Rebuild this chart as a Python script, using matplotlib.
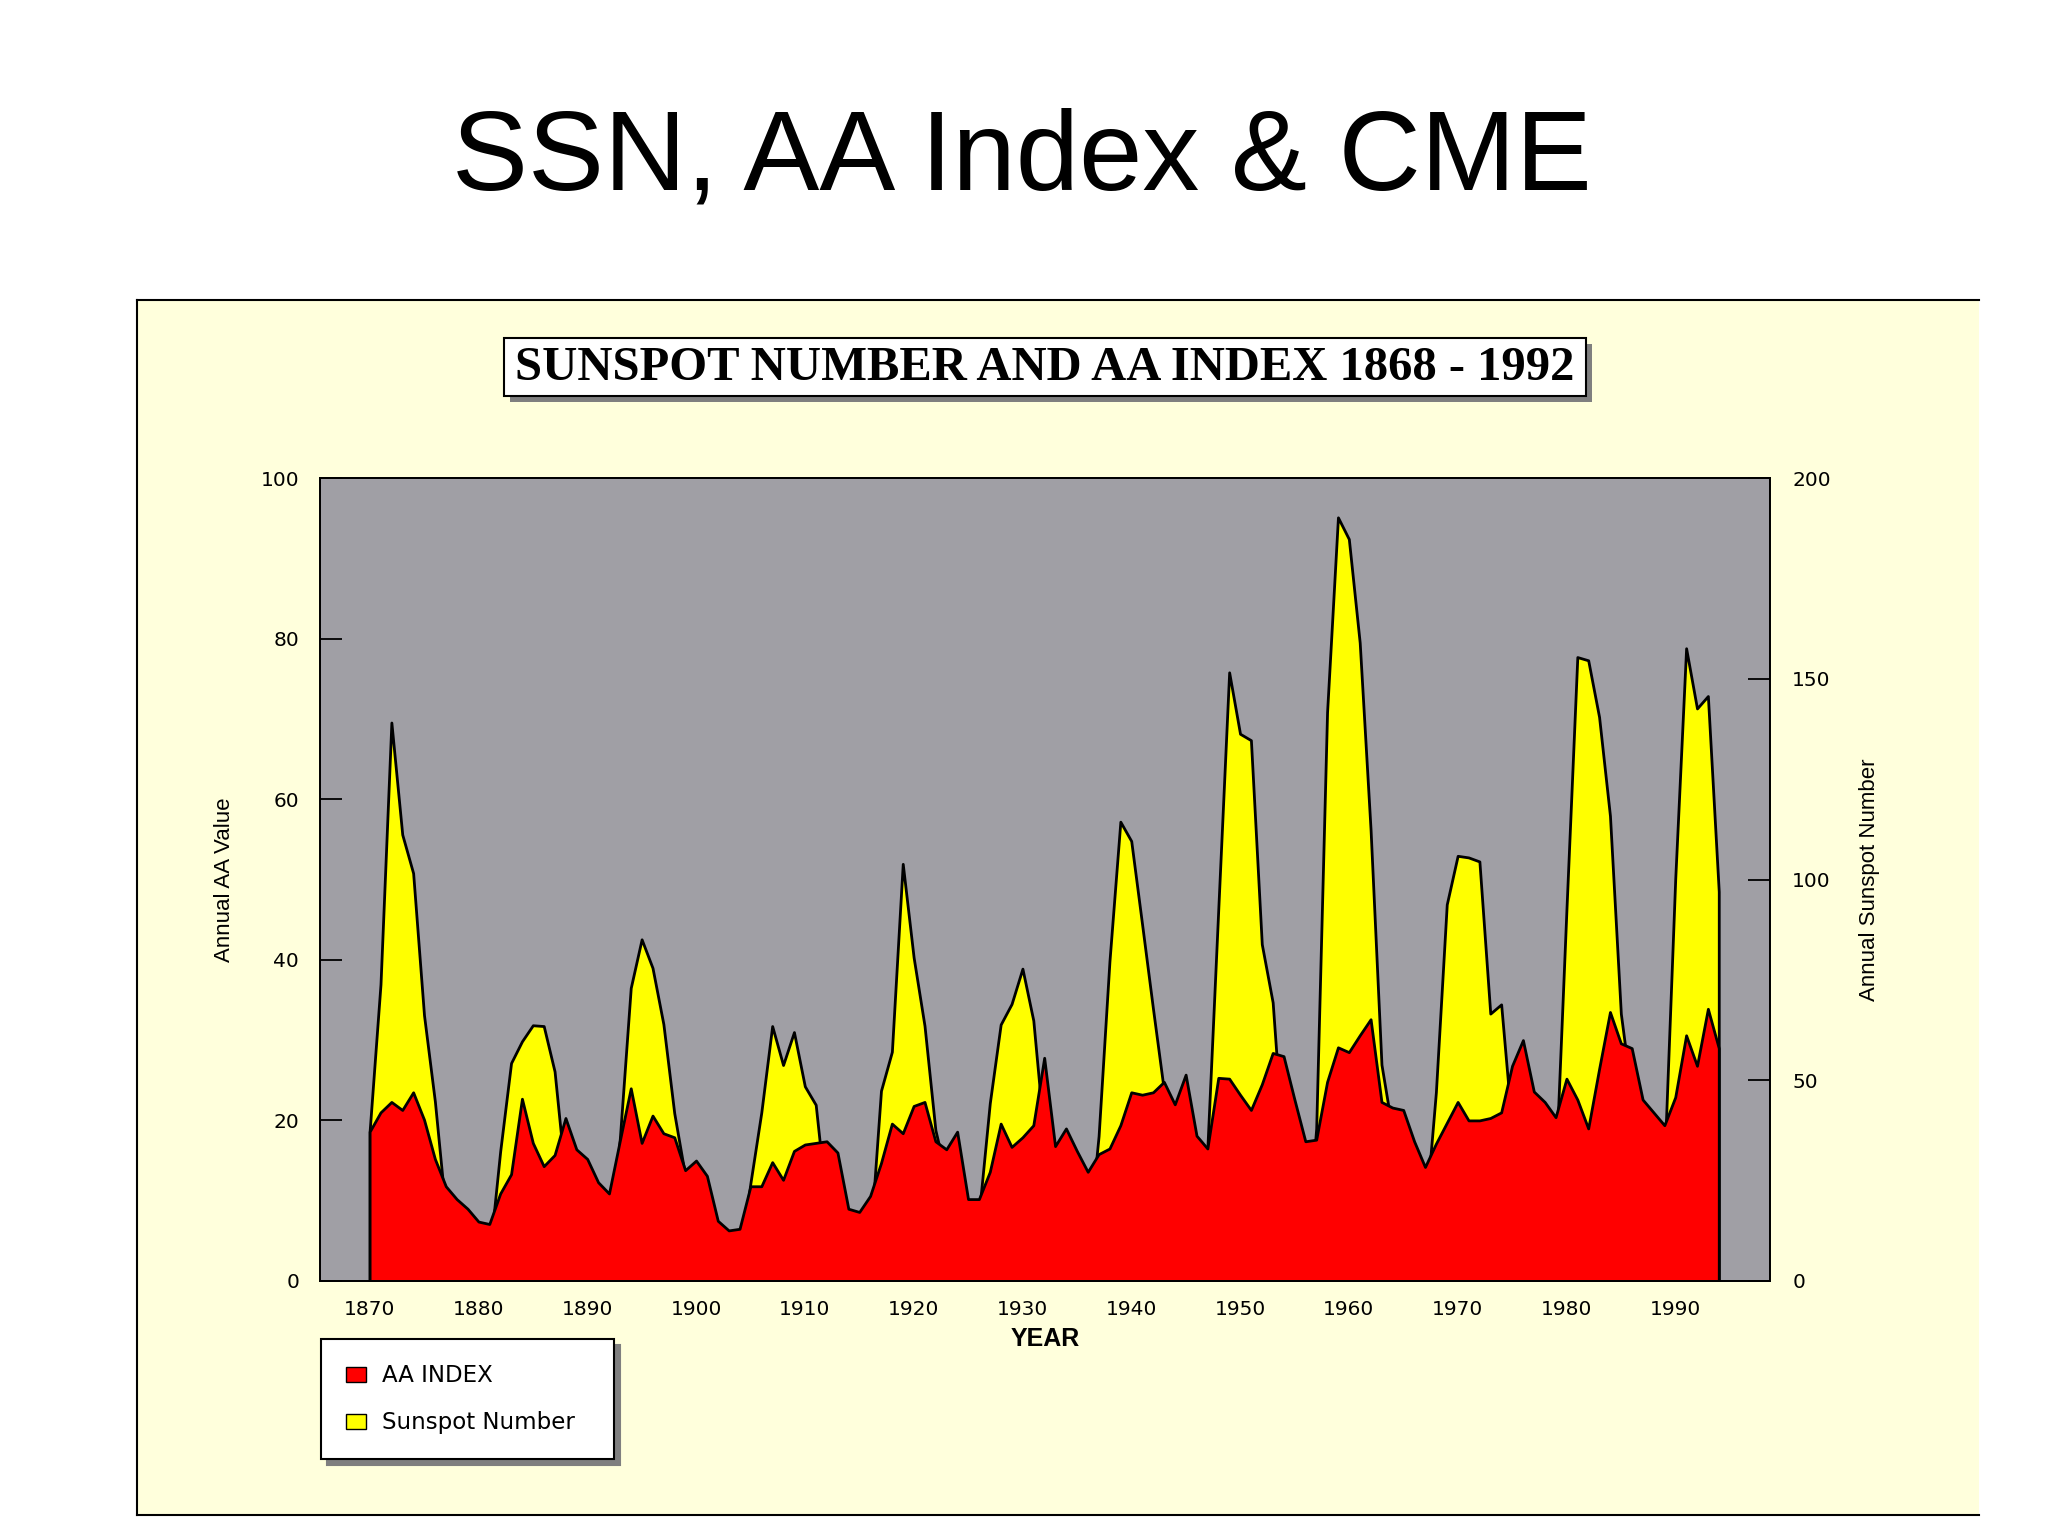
import matplotlib
matplotlib.use("Agg")
import matplotlib.pyplot as plt
from matplotlib.patches import Rectangle, Patch
from matplotlib.lines import Line2D

# ---------------- data ----------------
years = list(range(1870, 1995))

sunspot = [37.3, 73.9, 139.1, 111.2, 101.6, 66.2, 44.7, 17.0, 11.3, 12.4,
           3.4, 6.0, 32.3, 54.3, 59.7, 63.7, 63.5, 52.2, 25.4, 13.1,
           6.8, 6.3, 7.1, 35.6, 73.0, 85.1, 78.0, 64.0, 41.8, 26.2,
           26.7, 12.1, 9.5, 2.7, 5.0, 24.4, 42.0, 63.5, 53.8, 62.0,
           48.5, 43.9, 18.6, 5.7, 3.6, 1.4, 9.6, 47.4, 57.1, 103.9,
           80.6, 63.6, 37.6, 26.1, 14.2, 5.8, 16.7, 44.3, 63.9, 69.0,
           77.8, 64.9, 35.7, 21.2, 11.1, 5.7, 8.7, 36.1, 79.7, 114.4,
           109.6, 88.8, 67.8, 47.5, 30.6, 16.3, 9.6, 33.2, 92.6, 151.6,
           136.3, 134.7, 83.9, 69.4, 31.5, 13.9, 4.4, 38.0, 141.7, 190.2,
           184.8, 159.0, 112.3, 53.9, 37.5, 27.9, 10.2, 15.1, 47.0, 93.8,
           105.9, 105.5, 104.5, 66.6, 68.9, 38.0, 34.5, 15.5, 12.6, 27.5,
           92.5, 155.4, 154.6, 140.5, 115.9, 66.6, 45.9, 17.9, 13.4, 29.4,
           100.2, 157.6, 142.6, 145.7, 97.0]

aa_index = [18.6, 21.0, 22.3, 21.3, 23.5, 20.1, 15.2, 11.8, 10.2, 9.0,
            7.4, 7.1, 10.9, 13.3, 22.7, 17.2, 14.3, 15.7, 20.3, 16.4,
            15.2, 12.3, 10.9, 17.5, 24.0, 17.2, 20.6, 18.4, 17.9, 13.8,
            15.0, 13.1, 7.5, 6.3, 6.5, 11.8, 11.8, 14.8, 12.6, 16.2,
            17.0, 17.2, 17.4, 16.0, 9.0, 8.6, 10.6, 14.7, 19.6, 18.4,
            21.8, 22.3, 17.4, 16.4, 18.6, 10.2, 10.2, 13.6, 19.6, 16.7,
            17.9, 19.4, 27.8, 16.8, 19.0, 16.2, 13.6, 15.8, 16.5, 19.4,
            23.5, 23.2, 23.5, 24.8, 22.0, 25.7, 18.1, 16.5, 25.3, 25.2,
            23.2, 21.3, 24.5, 28.4, 28.0, 22.6, 17.4, 17.6, 24.8, 29.1,
            28.5, 30.6, 32.6, 22.3, 21.6, 21.3, 17.4, 14.2, 17.1, 19.7,
            22.3, 20.0, 20.0, 20.3, 21.0, 26.8, 30.0, 23.6, 22.3, 20.4,
            25.2, 22.6, 19.0, 26.4, 33.5, 29.6, 29.0, 22.6, 21.0, 19.4,
            22.9, 30.6, 26.8, 33.9, 29.0]

x_ticks = list(range(1870, 2000, 10))
aa_ticks = [0, 20, 40, 60, 80, 100]
ssn_ticks = [0, 50, 100, 150, 200]

slide_title = "SSN, AA Index & CME"
chart_title = "SUNSPOT NUMBER AND AA INDEX 1868 - 1992"
legend_labels = ["AA INDEX", "Sunspot Number"]

# ---------------- figure ----------------
W, H = 2048, 1536
fig = plt.figure(figsize=(W / 100, H / 100), dpi=100)
fig.patch.set_facecolor("white")

def fx(px):
    return px / W

def fy(py):
    return 1 - py / H

NARROW = ["Liberation Sans Narrow", "DejaVu Sans Condensed", "Liberation Sans"]
PANEL = "#FFFFDC"
GRAY = "#A09FA5"

# chart panel
fig.add_artist(Rectangle((fx(137), fy(1515)), fx(1979) - fx(137), fy(300) - fy(1515),
                         transform=fig.transFigure, fc=PANEL, ec="none", zorder=0))
for xs, ys in [([137, 137], [300, 1515]), ([137, 1979], [300, 300]), ([137, 1979], [1515, 1515])]:
    fig.add_artist(Line2D([fx(v) for v in xs], [fy(v) for v in ys],
                          transform=fig.transFigure, color="black", lw=1.5, zorder=1))

# slide title
fig.text(fx(1022), fy(189), slide_title, ha="center", va="baseline",
         fontsize=82, family=["Liberation Sans", "DejaVu Sans"], color="black")

# chart title box with shadow
bx0, by0, bx1, by1 = 504, 338, 1586, 396
fig.add_artist(Rectangle((fx(bx0 + 6), fy(by1 + 6)), fx(bx1) - fx(bx0), fy(by0) - fy(by1),
                         transform=fig.transFigure, fc="#7F7F7F", ec="none", zorder=2))
fig.add_artist(Rectangle((fx(bx0), fy(by1)), fx(bx1) - fx(bx0), fy(by0) - fy(by1),
                         transform=fig.transFigure, fc="white", ec="black", lw=1.5, zorder=3))
fig.text(fx((bx0 + bx1) / 2), fy(368), chart_title, ha="center", va="center",
         fontsize=35, fontweight="bold", family=["Liberation Serif", "DejaVu Serif"],
         color="black", zorder=4)

# axes
ax = fig.add_axes([fx(320), fy(1281), fx(1770) - fx(320), fy(478) - fy(1281)])
ax.set_facecolor(GRAY)
ax.fill_between(years, sunspot, 0, facecolor="#FFFF00", edgecolor="black", linewidth=2.0, zorder=2)
ax.set_ylim(0, 200)
ax.set_xlim(1865.44, 1998.71)
ax.set_yticks(ssn_ticks)
ax.set_xticks(x_ticks)
ax.yaxis.tick_right()
ax.yaxis.set_label_position("right")

ax2 = ax.twinx()
ax2.fill_between(years, aa_index, 0, facecolor="#FF0000", edgecolor="black", linewidth=2.0, zorder=2)
ax2.set_ylim(0, 100)
ax2.set_yticks(aa_ticks)
ax2.yaxis.tick_left()
ax2.yaxis.set_label_position("left")

for a in (ax, ax2):
    for s in a.spines.values():
        s.set_color("black")
        s.set_linewidth(1.3)

ax.tick_params(axis="x", length=0, pad=14, labelsize=14.5)
ax.tick_params(axis="y", direction="in", length=16, width=1.3, pad=16, labelsize=14.5,
               right=True, left=False, labelright=True, labelleft=False)
ax2.tick_params(axis="y", direction="in", length=16, width=1.3, pad=15, labelsize=14.5,
                left=True, right=False, labelleft=True, labelright=False)
for lab in ax.get_xticklabels() + ax.get_yticklabels() + ax2.get_yticklabels():
    lab.set_family("DejaVu Sans")

ax2.set_ylabel("Annual AA Value", fontsize=16, family=NARROW)
ax2.yaxis.set_label_coords((225 - 320) / 1450, 0.5)
ax2.yaxis.label.set_va("center")
ax.set_ylabel("Annual Sunspot Number", fontsize=16, family=NARROW)
ax.yaxis.set_label_coords((1870 - 320) / 1450, 0.5)
ax.yaxis.label.set_va("center")
ax.set_xlabel("YEAR", fontsize=18, fontweight="bold", family=NARROW)
ax.xaxis.set_label_coords(0.5, -(1339 - 1281) / 803)
ax.xaxis.label.set_va("center")

# legend
handles = [Patch(facecolor="#FF0000", edgecolor="black", linewidth=1.0),
           Patch(facecolor="#FFFF00", edgecolor="black", linewidth=1.0)]
leg = fig.legend(handles, legend_labels, loc="upper left",
                 bbox_to_anchor=(fx(321), fy(1464), fx(614) - fx(321), fy(1339) - fy(1464)),
                 mode="expand", frameon=True, fancybox=False, framealpha=1,
                 facecolor="white", edgecolor="black", borderpad=1.1, labelspacing=1.05,
                 handlelength=0.85, handleheight=0.65, handletextpad=0.7, borderaxespad=0,
                 prop={"family": "DejaVu Sans", "size": 16.5},
                 shadow={"ox": 4, "oy": -4, "facecolor": "#7F7F7F", "edgecolor": "#7F7F7F", "alpha": 1})
leg.get_frame().set_linewidth(1.5)

fig.savefig("out.png", dpi=100, facecolor=fig.get_facecolor())
